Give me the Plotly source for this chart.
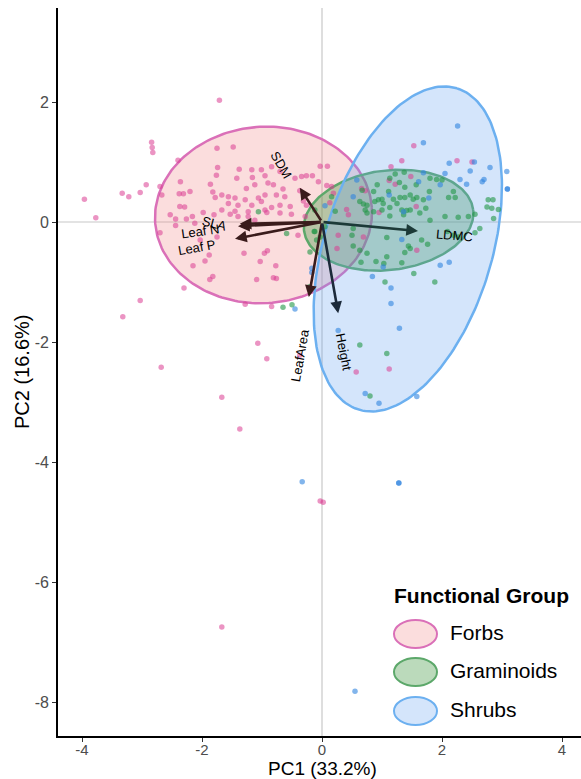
import numpy as np
import plotly.graph_objects as go

# ---- PCA scores by functional group ----
forbs_pc1 = [-3.96, -3.77, -3.33, -3.22, -3.03, -2.93, -2.84, -2.83, -2.82, -2.70, -2.67, -2.40,
             -1.71, -1.75, -1.74, -1.76, -2.36, -1.86, -2.38, -2.31, -2.20, -1.82, -1.78, -2.37,
             -2.29, -1.98, -2.53, -2.44, -2.44, -2.26, -2.16, -2.12, -1.80, -2.70, -2.03, -1.75,
             -1.88, -1.95, -2.15, -1.82, -1.87, -2.30, -3.03, -3.32, -1.48, -1.38, -1.17, -1.01,
             -0.84, -0.70, -1.42, -1.16, -0.95, -0.90, -1.12, -1.26, -0.81, -0.65, -0.45, -0.34,
             -0.26, -0.16, -0.03, 0.09, -0.06, 0.08, -1.67, -1.56, -1.45, -1.28, -1.06, -0.95,
             -0.76, -0.62, -0.37, -0.31, -1.56, -1.40, -1.17, -1.01, -0.84, -0.70, -0.53, -1.67,
             -1.45, -1.23, -0.95, -0.26, 0.16, 0.19, -1.53, -1.40, -1.23, -1.12, -0.92, -0.70,
             -0.51, -0.28, -0.40, -1.30, -0.96, -0.91, -1.03, -0.77, -1.09, -0.81, -0.76, -1.28,
             -0.84, 0.27, -2.68, -1.07, -0.92, -0.37, -1.67, -1.37, -0.03, 0.02, -1.67, 0.57,
             1.12, 1.53, 1.15, 1.33, 2.25, 2.50, 1.48, 1.12, 1.22, 1.57, 0.95, 1.58, 0.69, 0.13,
             0.41, 0.44, 0.66, 0.72, 0.25]
forbs_pc2 = [0.38, 0.07, 0.48, 0.42, 0.49, 0.62, 1.33, 1.24, 1.16, 0.59, 0.45, 1.03,
             2.03, 1.23, 0.91, 0.78, 0.67, 0.63, 0.47, 0.47, 0.51, 0.50, 0.41, 0.26,
             0.25, 0.16, 0.12, 0.05, -0.06, 0.05, 0.09, -0.02, 0.12, -0.18, -0.30, -0.25,
             -0.55, -0.65, -0.73, -0.91, -0.96, -1.10, -1.31, -1.58, 1.25, 0.88, 0.87, 0.87,
             0.92, 0.84, 0.73, 0.74, 0.77, 0.65, 0.62, 0.56, 0.62, 0.55, 0.73, 0.76,
             0.77, 0.77, 0.93, 0.93, 0.67, 0.61, 0.45, 0.42, 0.40, 0.37, 0.40, 0.45,
             0.45, 0.42, 0.52, 0.35, 0.31, 0.28, 0.28, 0.34, 0.24, 0.28, 0.26, 0.20,
             0.18, 0.17, 0.20, 0.28, 0.59, 0.48, 0.13, 0.09, 0.09, 0.03, 0.16, 0.15,
             0.13, 0.09, -0.22, -0.52, -0.52, -0.48, -0.66, -0.73, -0.96, -0.93, -0.94, -1.37,
             -1.41, -0.22, -2.42, -2.02, -2.28, -2.22, -2.92, -3.45, -4.65, -4.67, -6.75, -2.50,
             -2.45, 1.27, 0.92, 1.02, 1.02, 1.00, 0.76, 0.69, 0.63, 0.26, 0.16, -0.47, -0.25, 0.32,
             0.21, 0.12, 0.56, 0.52, -0.44]

gram_pc1 = [-1.06, -0.59, -0.12, 0.05, -0.09, -0.21, -0.65, -0.50, 0.16, 1.22, 1.29, 0.92,
            1.38, 1.57, 1.91, 2.00, 1.11, 0.86, 1.30, 1.38, 1.47, 1.52, 1.58, 1.69,
            1.79, 2.11, 2.22, 2.19, 0.94, 1.00, 1.19, 0.63, 0.75, 0.88, 1.02, 1.13,
            1.25, 1.33, 1.41, 1.47, 1.63, 1.73, 1.00, 0.75, 0.86, 1.13, 1.36, 1.80,
            2.05, 2.27, 2.44, 2.55, 2.77, 2.85, 2.75, 2.83, 2.94, 2.86, 0.52, 0.52,
            0.75, 0.63, 1.08, 1.44, 1.47, 1.66, 1.76, 1.38, 1.08, 1.33, 1.03, 0.90,
            2.09, 2.19, 2.27, 2.55, 2.63, 1.53, 1.05, 1.88, 0.63, 1.08, 0.80, 0.22,
            -0.12, 0.69, 0.72, 0.50, 0.65, -0.13, -0.03, -0.20, 1.13, 1.37, 1.80, 0.67]
gram_pc2 = [0.17, -0.19, -0.16, -0.08, -0.30, -1.08, -1.42, -1.38, 0.42, 0.80, 0.66, 0.62,
            0.58, 0.62, 0.71, 0.70, 0.51, 0.51, 0.41, 0.41, 0.45, 0.38, 0.41, 0.37,
            0.51, 0.41, 0.41, 0.51, 0.37, 0.38, 0.38, 0.34, 0.28, 0.34, 0.31, 0.24,
            0.31, 0.20, 0.19, 0.20, 0.15, 0.23, 0.20, 0.15, 0.17, 0.10, 0.12, 0.03,
            0.09, 0.08, 0.09, 0.13, 0.37, 0.37, 0.25, 0.23, 0.21, 0.06, -0.11, -0.40,
            -0.52, -0.47, -0.26, -0.40, -0.44, -0.30, -0.37, -0.51, -0.58, -0.68, -0.69, -0.66,
            -0.16, -0.22, -0.25, -0.18, -0.11, -0.86, -1.00, -1.00, -2.05, -2.19, -2.90, 0.18,
            0.20, 0.30, 0.20, -0.22, -0.67, -0.16, -0.25, -0.50, 0.73, 0.83, 0.73, 0.53]

shrub_pc1 = [2.26, 1.69, 2.54, 2.12, 2.80, 3.08, 2.47, 2.05, 1.69, 2.30, 2.70, 2.67,
             2.41, 3.09, 3.09, 1.61, 1.97, 1.36, 1.33, 1.97, 2.12, 1.02, 0.84, 1.15,
             1.15, 1.29, 0.27, 0.72, 0.95, 1.58, -0.33, 1.28, 1.28, 0.55, 0.52, 0.05,
             -0.17, -0.45, -0.17, 1.78, 1.12, 0.58]
shrub_pc2 = [1.60, 1.32, 1.00, 0.98, 0.91, 0.84, 0.85, 0.81, 0.82, 0.71, 0.71, 0.67,
             0.63, 0.55, 0.55, 0.67, 0.62, 0.17, -0.29, -0.72, -0.67, -0.75, -0.91, -1.10,
             -1.36, -1.77, -1.81, -2.86, -3.02, -2.91, -4.33, -4.35, -4.35, -7.82, 0.42, 0.27,
             -0.84, -1.45, -0.77, 0.40, 0.45, 0.70]

# ---- 95% ellipse summaries per group: centre, semi-axes, rotation (deg) ----
groups = ["Forbs", "Graminoids", "Shrubs"]
ell_cx = [-0.975, 1.11, 1.43]
ell_cy = [0.117, 0.03, -0.45]
ell_a = [1.81, 1.42, 2.80]
ell_b = [1.47, 0.83, 1.40]
ell_angle = [4, 7, 73]

# ---- trait loadings (arrow tips) ----
traits = ["SLA", "Leaf N", "Leaf P", "SDM", "LDMC", "LeafArea", "Height"]
load_pc1 = [-1.40, -1.37, -1.45, -0.37, 1.60, -0.22, 0.27]
load_pc2 = [-0.07, -0.03, -0.28, 0.57, -0.15, -1.25, -1.52]

# axis ticks
x_ticks = [-4, -2, 0, 2, 4]
y_ticks = [2, 0, -2, -4, -6, -8]

# label placement for each trait (x, y, rotation)
label_pos = {
    "SLA": (-1.80, -0.02, 14),
    "Leaf N": (-2.03, -0.15, -8),
    "Leaf P": (-2.08, -0.43, -10),
    "SDM": (-0.67, 0.95, 60),
    "LDMC": (2.20, -0.22, 5),
    "LeafArea": (-0.37, -2.22, -80),
    "Height": (0.37, -2.17, 79),
}
arrow_colors = {
    "SLA": "#3a1c1c", "Leaf N": "#3a1c1c", "Leaf P": "#3a1c1c", "SDM": "#3a1c1c",
    "LeafArea": "#3a1c1c", "LDMC": "#1c3a38", "Height": "#1c2a3a",
}

point_col = {"Forbs": "rgba(218,60,145,0.55)", "Graminoids": "rgba(34,150,70,0.6)",
             "Shrubs": "rgba(46,132,224,0.6)"}
fill_col = {"Forbs": "rgba(240,128,128,0.27)", "Graminoids": "rgba(60,150,60,0.35)",
            "Shrubs": "rgba(100,160,240,0.28)"}
line_col = {"Forbs": "#da70b8", "Graminoids": "#5ca86a", "Shrubs": "#6cb0f0"}

FONT = "Liberation Sans, Arial, Helvetica, sans-serif"


def ellipse_path(cx, cy, a, b, ang, n=200):
    t = np.linspace(0, 2 * np.pi, n)
    th = np.deg2rad(ang)
    x = cx + a * np.cos(t) * np.cos(th) - b * np.sin(t) * np.sin(th)
    y = cy + a * np.cos(t) * np.sin(th) + b * np.sin(t) * np.cos(th)
    return x, y


fig = go.Figure()

# ellipses
for i, g in enumerate(groups):
    ex, ey = ellipse_path(ell_cx[i], ell_cy[i], ell_a[i], ell_b[i], ell_angle[i])
    fig.add_trace(go.Scatter(x=ex, y=ey, mode="lines", fill="toself",
                             fillcolor=fill_col[g], line=dict(color=line_col[g], width=2.5),
                             hoverinfo="skip", showlegend=False))

# points
scores = {"Forbs": (forbs_pc1, forbs_pc2), "Graminoids": (gram_pc1, gram_pc2),
          "Shrubs": (shrub_pc1, shrub_pc2)}
for g in groups:
    px, py = scores[g]
    fig.add_trace(go.Scatter(x=px, y=py, mode="markers", name=g,
                             marker=dict(size=5.5, color=point_col[g], line=dict(width=0)),
                             showlegend=False))

annotations = []
# loading arrows
for t, lx, ly in zip(traits, load_pc1, load_pc2):
    annotations.append(dict(x=lx, y=ly, ax=0, ay=0, xref="x", yref="y", axref="x", ayref="y",
                            text="", showarrow=True, arrowhead=2, arrowsize=0.9,
                            arrowwidth=2.6, arrowcolor=arrow_colors[t]))
for t in traits:
    tx, ty, rot = label_pos[t]
    annotations.append(dict(x=tx, y=ty, xref="x", yref="y", text=t, showarrow=False,
                            textangle=rot, font=dict(family=FONT, size=13, color="black")))

# plot area geometry (pixels)
W, H = 581, 779
ML, MR, MT, MB = 58, 0, 8, 43
pw, ph = W - ML - MR, H - MT - MB


def pxp(x):
    return (x - ML) / pw


def pyp(y):
    return (H - MB - y) / ph


# axis titles
annotations.append(dict(x=pxp(322), y=pyp(768), xref="paper", yref="paper", text="PC1 (33.2%)",
                        showarrow=False, xanchor="center", yanchor="middle",
                        font=dict(family=FONT, size=19, color="black")))
annotations.append(dict(x=pxp(22), y=pyp(372), xref="paper", yref="paper", text="PC2 (16.6%)",
                        showarrow=False, textangle=-90, xanchor="center", yanchor="middle",
                        font=dict(family=FONT, size=20, color="black")))

# legend
shapes = []
annotations.append(dict(x=pxp(392), y=pyp(595), xref="paper", yref="paper",
                        text="<b>Functional Group</b>", showarrow=False, xanchor="left",
                        yanchor="middle", font=dict(family=FONT, size=21, color="black")))
key_y = [634, 672, 711]
for g, ky in zip(groups, key_y):
    shapes.append(dict(type="circle", xref="paper", yref="paper",
                       x0=pxp(394), x1=pxp(437), y0=pyp(ky - 14), y1=pyp(ky + 14),
                       fillcolor=fill_col[g], line=dict(color=line_col[g], width=2)))
    annotations.append(dict(x=pxp(448), y=pyp(ky - 2), xref="paper", yref="paper", text=g,
                            showarrow=False, xanchor="left", yanchor="middle",
                            font=dict(family=FONT, size=21, color="black")))

# reference lines through origin
shapes.append(dict(type="line", xref="x", yref="paper", x0=0, x1=0, y0=0, y1=1,
                   line=dict(color="#c8c8c8", width=1.2), layer="below"))
shapes.append(dict(type="line", xref="paper", yref="y", x0=0, x1=1, y0=0, y1=0,
                   line=dict(color="#c8c8c8", width=1.2), layer="below"))

xr = [(ML - 322) / 60, (W - MR - 322) / 60]
yr = [(222 - (H - MB)) / 60, (222 - MT) / 60]

axis_common = dict(showgrid=False, zeroline=False, showline=True, linecolor="black",
                   linewidth=1.6, ticks="outside", ticklen=4, tickwidth=1,
                   tickcolor="#333333")

fig.update_layout(
    width=W, height=H, margin=dict(l=ML, r=MR, t=MT, b=MB, autoexpand=False),
    paper_bgcolor="white", plot_bgcolor="white",
    annotations=annotations, shapes=shapes, showlegend=False,
    font=dict(family=FONT),
    xaxis=dict(range=xr, tickvals=x_ticks, ticktext=[str(v) for v in x_ticks],
               ticklabelstandoff=-5, tickfont=dict(family=FONT, size=15, color="#4d4d4d"),
               **axis_common),
    yaxis=dict(range=yr, tickvals=y_ticks, ticktext=[str(v) for v in y_ticks],
               tickfont=dict(family=FONT, size=16, color="#4d4d4d"), **axis_common),
)

fig.write_html("out.html")
